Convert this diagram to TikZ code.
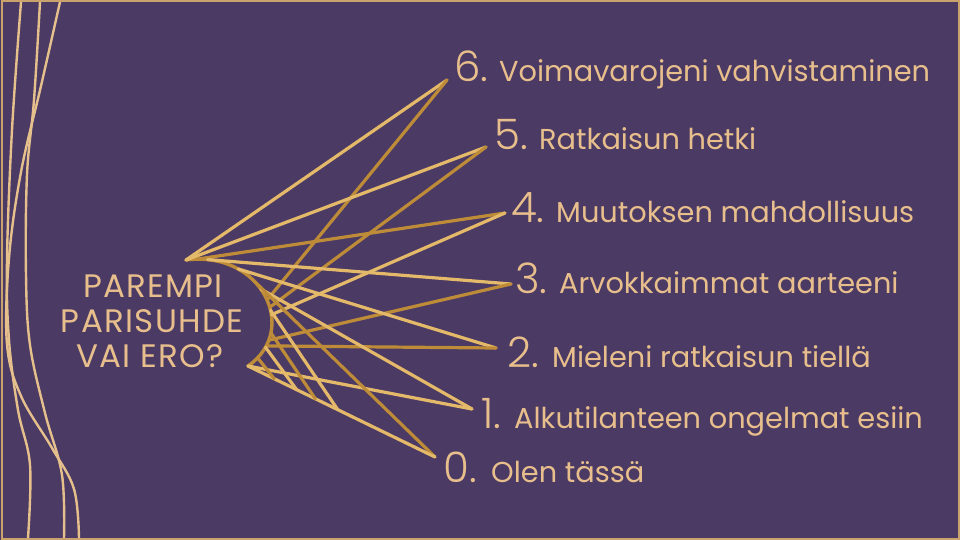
\documentclass[tikz,border=0pt]{standalone}
\usepackage{fontspec}
\setmainfont{Poppins}
\newfontfamily\lightfont{Poppins}[UprightFont=* Light]
\usetikzlibrary{calc}
\definecolor{bg}{HTML}{4A3A64}
\definecolor{txt}{HTML}{E8BF8C}
\definecolor{goldA}{HTML}{E4B96A}
\definecolor{goldB}{HTML}{BE8C38}
\definecolor{deco}{HTML}{E6C08C}
\definecolor{frame}{HTML}{C9A26E}
\begin{document}
\begin{tikzpicture}[x=1pt,y=-1pt,
  fanA/.style={line width=3.2pt, draw=goldA, line cap=round},
  fanB/.style={line width=3.2pt, draw=goldB, line cap=round},
  decoline/.style={line width=2.4pt, draw=deco},
  digit/.style={anchor=base west, inner sep=0pt, text=txt, font=\lightfont\fontsize{42}{46}\selectfont},
  label/.style={anchor=base west, inner sep=0pt, text=txt, font=\fontsize{28.8}{32}\selectfont},
  title/.style={anchor=base, inner sep=0pt, text=txt, font=\fontsize{32.5}{35}\selectfont\addfontfeatures{LetterSpace=4}}]
\fill[bg] (0,0) rectangle (960,540);
\useasboundingbox (0,0) rectangle (960,540);
\draw[frame, line width=2pt] (1.5,1.5) rectangle (958.5,538.5);

% left decorative lines
\draw[decoline] plot[smooth, tension=0.6] coordinates {(21,2) (12,130) (7,260) (9,340) (18,410) (30,465) (28,538)};
\draw[decoline] plot[smooth, tension=0.6] coordinates {(40,2) (34,100) (27,175) (26,275) (30,345) (45,413) (62,475) (64,538)};
\draw[decoline] plot[smooth, tension=0.6] coordinates {(60,2) (41,86) (21,172) (9,258) (7,344) (21,396) (52,448) (74,489) (79,538)};

% title
\node[title] (t1) at (153,297) {PAREMPI};
\node[title] (t2) at (152,332) {PARISUHDE};
\node[title] (t3) at (150,367) {VAI ERO?};

% tips
\coordinate (T6) at (447,80);
\coordinate (T5) at (486,147);
\coordinate (T4) at (505,213);
\coordinate (T3) at (511,284);
\coordinate (T2) at (496,348);
\coordinate (T1) at (472,409);
\coordinate (T0) at (435,457);

% curve
\coordinate (P0) at (186,260);
\coordinate (P1) at (248,366);
\draw[fanB, line width=3.4pt] (P0) .. controls (262,250) and (300,330) .. (P1)
  coordinate[pos=0.05] (c05)
  coordinate[pos=0.10] (c10)
  coordinate[pos=0.27] (c27)
  coordinate[pos=0.38] (c38)
  coordinate[pos=0.45] (c45)
  coordinate[pos=0.53] (c53)
  coordinate[pos=0.58] (c58)
  coordinate[pos=0.60] (c60)
  coordinate[pos=0.63] (c63)
  coordinate[pos=0.75] (c75)
  coordinate[pos=0.80] (c80)
  coordinate[pos=0.84] (c84)
  coordinate[pos=0.85] (c85)
  coordinate[pos=0.93] (c93);

% fan lines
\draw[fanA] (P0) -- (T6);
\draw[fanB] (c53) -- (T6);
\draw[fanA] (P0) -- (T5);
\draw[fanB] (c58) -- (T5);
\draw[fanB] (c05) -- (T4);
\draw[fanA] (c63) -- (T4);
\draw[fanA] (c10) -- (T3);
\draw[fanB] (c80) -- (T3);
\draw[fanA] (c27) -- (T2);
\draw[fanB] (c84) -- (T2);
\draw[fanA] (c45) -- (T1);
\draw[fanA] (P1) -- (T1);
\draw[fanB] (c38) -- (T0);
\draw[fanA] (P1) -- (T0);

% lattice toward the bottom line
\coordinate (m48) at ($(P1)!0.48!(T0)$);
\coordinate (m36) at ($(P1)!0.36!(T0)$);
\coordinate (m26) at ($(P1)!0.26!(T0)$);
\coordinate (m14) at ($(P1)!0.14!(T0)$);
\draw[fanA] (c60) -- (m48);
\draw[fanB] (c75) -- (m36);
\draw[fanA] (c85) -- (m26);
\draw[fanB] (c93) -- (m14);

% labels
\node[digit] (d6) at (454,82) {6.};
\node[label] (l6) at (499,82) {Voimavarojeni vahvistaminen};
\node[digit] (d5) at (494,150) {5.};
\node[label] (l5) at (539,150) {Ratkaisun hetki};
\node[digit] (d4) at (511,222) {4.};
\node[label] (l4) at (556,222) {Muutoksen mahdollisuus};
\node[digit] (d3) at (515,293) {3.};
\node[label] (l3) at (559,293) {Arvokkaimmat aarteeni};
\node[digit] (d2) at (507,367) {2.};
\node[label] (l2) at (552,367) {Mieleni ratkaisun tiellä};
\node[digit] (d1) at (481,428) {1.};
\node[label] (l1) at (514,428) {Alkutilanteen ongelmat esiin};
\node[digit] (d0) at (443,482) {0.};
\node[label] (l0) at (491,482) {Olen tässä};
\end{tikzpicture}
\end{document}
